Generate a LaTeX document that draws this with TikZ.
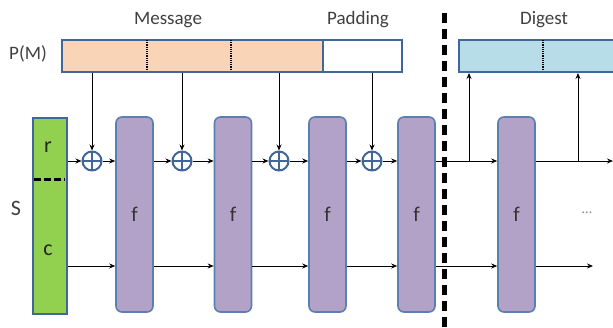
\documentclass[tikz,border=0pt]{standalone}
\usepackage{fontspec}
\setmainfont{Carlito}
\usetikzlibrary{arrows.meta,calc}
\definecolor{bord}{HTML}{41679A}
\definecolor{peach}{HTML}{FAD4B6}
\definecolor{dig}{HTML}{B7DDE8}
\definecolor{grn}{HTML}{92D050}
\definecolor{purp}{HTML}{B2A2C8}
\definecolor{fbord}{HTML}{5B80B0}
\definecolor{lbl}{HTML}{404040}
\begin{document}
\begin{tikzpicture}[x=1pt,y=-1pt,
  lab/.style={font=\fontsize{19}{21}\selectfont,text=lbl},
  fbox/.style={draw=fbord,line width=1.6pt,fill=purp,rounded corners=6pt,minimum width=37pt,minimum height=195pt,inner sep=0pt,font=\fontsize{21}{23}\selectfont,text=black!80},
  xorc/.style={circle,draw=bord,line width=2pt,minimum size=19pt,inner sep=0pt,path picture={\draw[bord,line width=2pt] (path picture bounding box.north) -- (path picture bounding box.south) (path picture bounding box.west) -- (path picture bounding box.east);}},
  arr/.style={-{Stealth[length=6pt,width=5pt]},line width=0.8pt},
  bar/.style={draw=bord,line width=2pt,minimum height=32pt,inner sep=0pt}]
\useasboundingbox (0,0) rectangle (613,327);
% top bars
\node[bar,fill=peach,minimum width=261pt,anchor=north west] (pm) at (61,39) {};
\node[bar,fill=white,minimum width=79pt,anchor=north west] (pad) at (322,39) {};
\node[bar,fill=dig,minimum width=170pt,anchor=north west] (dg) at (458,39) {};
\draw[densely dotted,line width=1.2pt] (147,40) -- (147,70) (231,40) -- (231,70) (543,40) -- (543,70);
\node[lab] (msg) at (168,20) {Message};
\node[lab] (padl) at (358,20) {Padding};
\node[lab] (dgl) at (544,20) {Digest};
\node[lab] (pml) at (28,54) {P(M)};
% separator
\draw[line width=5pt,dash pattern=on 10pt off 6pt] (444,13) -- (444,330);
% state
\node[draw=bord,line width=2.2pt,fill=grn,minimum width=34pt,minimum height=196pt,inner sep=0pt,anchor=north west] (s) at (32,117) {};
\node[font=\fontsize{22}{24}\selectfont,text=black!85] (r) at (48,147) {r};
\node[font=\fontsize{22}{24}\selectfont,text=black!85] (c) at (48,250) {c};
\draw[line width=3pt,dash pattern=on 7pt off 3pt] (34,179) -- (65,179);
\node[lab,font=\fontsize{22}{24}\selectfont] (S) at (16,208) {S};
% f boxes
\node[fbox] (f1) at (134.5,214.5) {f};
\node[fbox] (f2) at (233,214.5) {f};
\node[fbox] (f3) at (327.5,214.5) {f};
\node[fbox] (f4) at (416.5,214.5) {f};
\node[fbox] (f5) at (516.5,214.5) {f};
% xor
\node[xorc] (x1) at (92,161) {};
\node[xorc] (x2) at (182,161) {};
\node[xorc] (x3) at (279,161) {};
\node[xorc] (x4) at (372,161) {};
\coordinate (bot) at (0,266);
\coordinate (t1) at (469,161);
\coordinate (t2) at (578,161);
\coordinate (rend) at (613,161);
\coordinate (bend) at (593,266);
% message inputs
\foreach \i in {1,2,3,4}{\draw[arr] (pm.south -| x\i) -- (x\i.north);}
% top row
\draw[arr] (s.east |- x1) -- (x1.west);
\draw[arr] (x1.east) -- (f1.west |- x1);
\draw[arr] (f1.east |- x2) -- (x2.west);
\draw[arr] (x2.east) -- (f2.west |- x2);
\draw[arr] (f2.east |- x3) -- (x3.west);
\draw[arr] (x3.east) -- (f3.west |- x3);
\draw[arr] (f3.east |- x4) -- (x4.west);
\draw[arr] (x4.east) -- (f4.west |- x4);
\draw[arr] (f4.east |- t1) -- (f5.west |- t1);
\draw[arr] (f5.east |- t2) -- (rend);
\draw[arr] (t1) -- (dg.south -| t1);
\draw[arr] (t2) -- (dg.south -| t2);
% bottom row
\draw[arr] (s.east |- bot) -- (f1.west |- bot);
\draw[arr] (f1.east |- bot) -- (f2.west |- bot);
\draw[arr] (f2.east |- bot) -- (f3.west |- bot);
\draw[arr] (f3.east |- bot) -- (f4.west |- bot);
\draw[arr] (f4.east |- bot) -- (f5.west |- bot);
\draw[arr] (f5.east |- bot) -- (bend);
\node[text=gray,font=\fontsize{14}{16}\selectfont] (dots) at (587,213) {...};
\end{tikzpicture}
\end{document}
